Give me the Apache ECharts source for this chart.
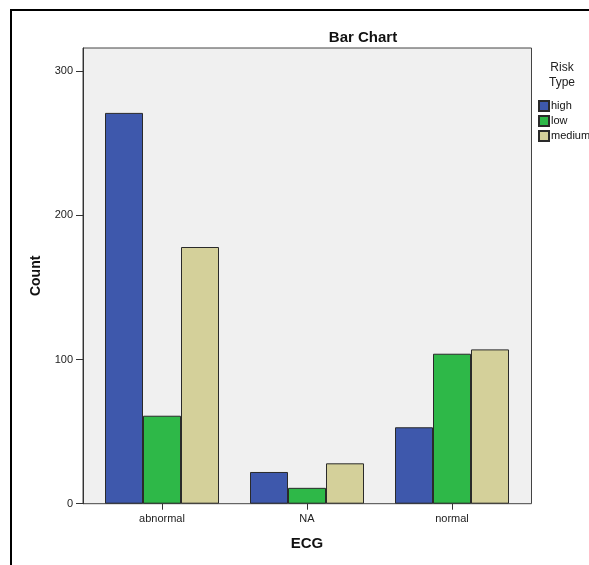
<!DOCTYPE html>
<html><head><meta charset="utf-8">
<script src="https://cdn.jsdelivr.net/npm/echarts@6/dist/echarts.min.js"></script>
<style>html,body{margin:0;padding:0;background:#fff}#c{width:589px;height:565px}</style>
</head><body><div id="c"></div>
<script>
const categories = ['abnormal', 'NA', 'normal'];
const seriesNames = ['high', 'low', 'medium'];
const highValues = [271, 22, 53];
const lowValues = [61, 11, 104];
const mediumValues = [178, 28, 107];
const yTicks = [0, 100, 200, 300];

const colors = ['#3e58ac', '#2eb848', '#d4d09a'];
const values = [highValues, lowValues, mediumValues];
const FONT = '"Liberation Sans", Arial, sans-serif';

const chart = echarts.init(document.getElementById('c'), null, {renderer: 'canvas'});
chart.setOption({
  animation: false,
  backgroundColor: '#fff',
  textStyle: {fontFamily: FONT},
  title: [
    {text: 'Bar Chart', left: 358, top: 25, textAlign: 'center',
     textStyle: {fontSize: 15, fontWeight: 'bold', color: '#111', fontFamily: FONT}},
    {text: 'Risk\nType', left: 557, top: 55, textAlign: 'center',
     textStyle: {fontSize: 12, fontWeight: 'normal', color: '#222', lineHeight: 15, fontFamily: FONT}}
  ],
  legend: {
    orient: 'vertical', left: 533, top: 95,
    itemWidth: 10, itemHeight: 10, itemGap: 3,
    icon: 'rect',
    textStyle: {fontSize: 11, color: '#111', lineHeight: 12, padding: [0,0,0,-3], fontFamily: FONT},
    data: seriesNames
  },
  graphic: [
    {type: 'rect', z: 0, silent: true,
     shape: {x: 83, y: 48, width: 448.5, height: 455.7},
     style: {fill: '#f0f0f0', stroke: '#444', lineWidth: 1}},
    {type: 'line', z: 10, silent: true, shape: {x1: 11, y1: 10, x2: 11, y2: 565}, style: {stroke: '#000', lineWidth: 2}},
    {type: 'line', z: 10, silent: true, shape: {x1: 10, y1: 10, x2: 589, y2: 10}, style: {stroke: '#000', lineWidth: 2}}
  ],
  grid: {left: 89.5, right: 64.5, top: 48, bottom: 61.3, containLabel: false},
  xAxis: {
    type: 'category', data: categories,
    name: 'ECG', nameLocation: 'middle', nameGap: 33,
    nameTextStyle: {fontSize: 15, fontWeight: 'bold', color: '#111', fontFamily: FONT},
    axisLine: {show: false},
    axisTick: {show: true, alignWithLabel: true, length: 6, lineStyle: {color: '#333'}},
    axisLabel: {fontSize: 11, color: '#222', margin: 10, fontFamily: FONT},
    splitLine: {show: false}
  },
  yAxis: {
    type: 'value', min: 0, max: 316, interval: 100, offset: 6.5,
    name: 'Count', nameLocation: 'middle', nameGap: 40, nameRotate: 90,
    nameTextStyle: {fontSize: 14, fontWeight: 'bold', color: '#111', fontFamily: FONT},
    axisLine: {show: true, lineStyle: {color: '#333'}},
    axisTick: {show: true, length: 7, customValues: yTicks, lineStyle: {color: '#333'}},
    axisLabel: {fontSize: 11, color: '#222', margin: 10, fontFamily: FONT, customValues: yTicks},
    splitLine: {show: false}
  },
  series: seriesNames.map((n, i) => ({
    name: n, type: 'bar', data: values[i],
    barWidth: 38, barGap: '0%',
    itemStyle: {color: colors[i], borderColor: '#2a2a2a', borderWidth: 1}
  }))
});
</script></body></html>
